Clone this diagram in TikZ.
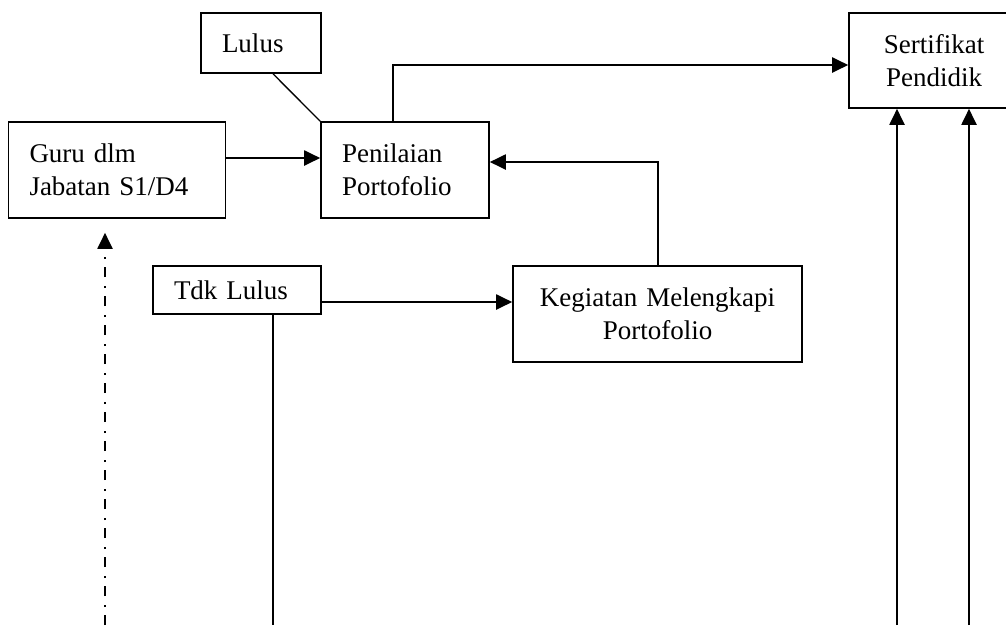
\documentclass[tikz,border=0pt]{standalone}
\usepackage{fontspec}
\setmainfont{Liberation Serif}
\usepackage{tikz}
\usetikzlibrary{arrows.meta, calc}

\tikzset{
	kotak/.style = {draw, line width = 1.6pt, inner ysep = 0pt, font = \fontsize{27}{33}\selectfont},
	kiri/.style = {align = left, inner xsep = 21pt},
	tengah/.style = {align = center, inner xsep = 0pt},
	panah/.style = {line width = 2pt, -{Triangle[length = 16pt, width = 15pt]}},
	garis/.style = {line width = 2pt},
}

\begin{document}
\begin{tikzpicture}[x = 1pt, y = -1pt]
	\useasboundingbox (0,0) rectangle (1006,625);

	\node [kotak, kiri, text width = 78pt, minimum height = 60pt] (lulus) at (261,43) {Lulus};
	\node [kotak, kiri, text width = 175pt, minimum height = 96pt] (guru) at (117,170) {Guru dlm\\Jabatan S1/D4};
	\node [kotak, kiri, text width = 126pt, minimum height = 96pt] (penilaian) at (405,170) {Penilaian\\Portofolio};
	\node [kotak, kiri, text width = 126pt, minimum height = 48pt] (tdklulus) at (237,290) {Tdk Lulus};
	\node [kotak, tengah, text width = 289pt, minimum height = 96pt] (kegiatan) at (657.5,314) {Kegiatan Melengkapi\\Portofolio};
	\node [kotak, tengah, text width = 170pt, minimum height = 95pt] (sertifikat) at (934,60.5) {Sertifikat\\Pendidik};

	\coordinate (belok) at (393,65);
	\coordinate (bawahguru) at (105,625);
	\coordinate (bawahtdk) at (273,625);
	\coordinate (bawahkiri) at (897,625);
	\coordinate (bawahkanan) at (969,625);

	\draw [line width = 1.3pt] ([xshift = 12pt]lulus.south) -- (penilaian.north west);
	\draw [panah] ([xshift = -12pt]penilaian.north) -- (belok) -- (belok -| sertifikat.west);
	\draw [panah] ([yshift = 12pt]guru.east) -- ([yshift = 12pt]penilaian.west);
	\draw [panah] (kegiatan.north) |- ([yshift = 8pt]penilaian.east);
	\draw [panah] ([yshift = -12pt]tdklulus.east) -- ([yshift = -12pt]tdklulus.east -| kegiatan.west);
	\draw [garis] ([xshift = 36pt]tdklulus.south) -- (bawahtdk);

	% jalur tanpa portofolio
	\draw [panah, dash pattern = on 10pt off 8pt on 2pt off 9pt] (bawahguru) -- ([yshift = -14pt]guru.south -| bawahguru);

	\draw [panah] (bawahkiri) -- (bawahkiri |- sertifikat.south);
	\draw [panah] (bawahkanan) -- (bawahkanan |- sertifikat.south);
\end{tikzpicture}
\end{document}
